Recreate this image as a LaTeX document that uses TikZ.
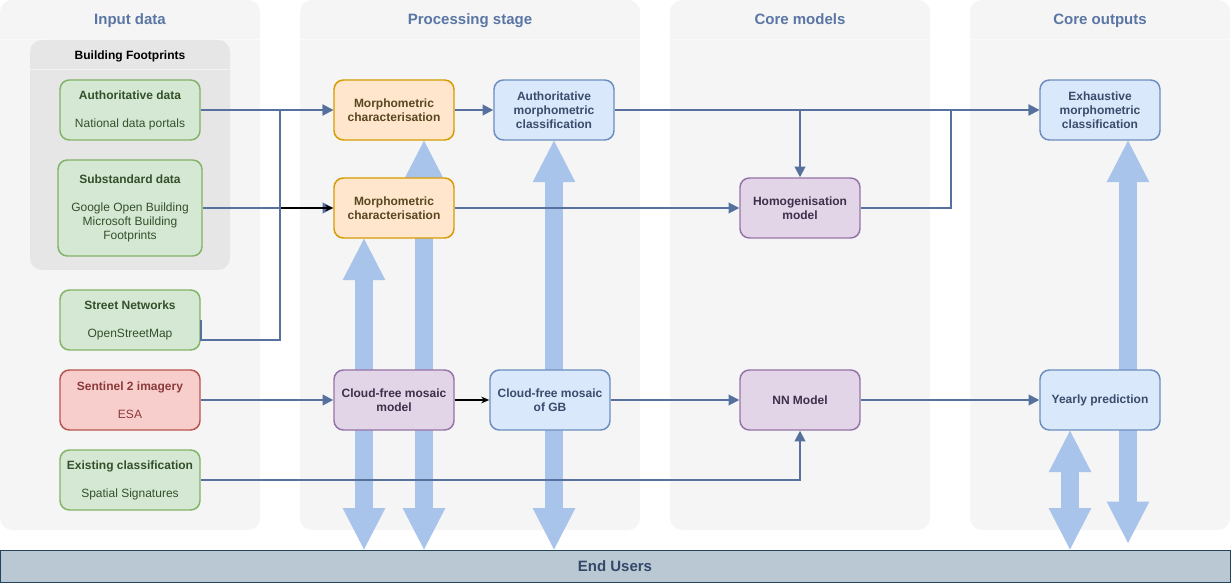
\documentclass[tikz,border=0pt]{standalone}
\usepackage{fontspec}
\setmainfont{Liberation Sans}
\usetikzlibrary{arrows.meta}

\definecolor{lanegrey}{HTML}{F5F5F5}
\definecolor{groupgrey}{HTML}{E6E6E6}
\definecolor{titleblue}{HTML}{5A76A4}
\definecolor{linkblue}{HTML}{56719E}
\definecolor{flowblue}{HTML}{A9C4EB}
\definecolor{greenfill}{HTML}{D5E8D4}
\definecolor{greenline}{HTML}{82B366}
\definecolor{greentext}{HTML}{34502A}
\definecolor{redfill}{HTML}{F8CECC}
\definecolor{redline}{HTML}{B85450}
\definecolor{redtext}{HTML}{8A3A3A}
\definecolor{orangefill}{HTML}{FFE6CC}
\definecolor{orangeline}{HTML}{D79B00}
\definecolor{orangetext}{HTML}{574820}
\definecolor{bluefill}{HTML}{DAE8FC}
\definecolor{blueline}{HTML}{6C8EBF}
\definecolor{bluetext}{HTML}{3A4C6B}
\definecolor{purplefill}{HTML}{E1D5E7}
\definecolor{purpleline}{HTML}{9673A6}
\definecolor{purpletext}{HTML}{3E2F4A}
\definecolor{usersfill}{HTML}{BAC8D3}
\definecolor{usersline}{HTML}{23445D}
\definecolor{userstext}{HTML}{34496A}

\pgfdeclarelayer{lanes}
\pgfdeclarelayer{flows}
\pgfsetlayers{lanes,flows,main}

\tikzset{
  bigtip/.tip={Triangle[length=31pt,width=32pt,line width=0pt]},
  smalltip/.tip={Triangle[length=8pt,width=8pt]}
}

\begin{document}
\begin{tikzpicture}[
    x=0.75pt, y=-0.75pt,
    every node/.style={font=\fontsize{9pt}{10.5pt}\selectfont},
    lane/.style={fill=lanegrey, rounded corners=9pt},
    lanesep/.style={draw=white, opacity=0.5, line width=0.75pt},
    lanetitle/.style={font=\fontsize{11.25pt}{13pt}\selectfont\bfseries, text=titleblue, anchor=base},
    box/.style={rectangle, rounded corners=7pt, line width=1.1pt, minimum width=90pt,
      minimum height=45pt, align=center, inner sep=1pt},
    boldbox/.style={box, font=\fontsize{9pt}{10.5pt}\selectfont\bfseries},
    greenbox/.style={box, draw=greenline, fill=greenfill, text=greentext, minimum width=105pt},
    redbox/.style={box, draw=redline, fill=redfill, text=redtext, minimum width=105pt},
    orangebox/.style={boldbox, draw=orangeline, fill=orangefill, text=orangetext},
    bluebox/.style={boldbox, draw=blueline, fill=bluefill, text=bluetext},
    purplebox/.style={boldbox, draw=purpleline, fill=purplefill, text=purpletext},
    link/.style={draw=linkblue, line width=1.4pt, -smalltip},
    blacklink/.style={draw=black, line width=0.8pt, -{Stealth[length=6pt,width=5pt]}},
    flow/.style={draw=flowblue, line width=14pt, bigtip-bigtip}
  ]
  \useasboundingbox (0,0) rectangle (1231,584);

  % swimlanes
  \begin{pgfonlayer}{lanes}
    \path[lane] (0,0) rectangle (260,530);
    \path[lane] (300,0) rectangle (640,530);
    \path[lane] (670,0) rectangle (930,530);
    \path[lane] (970,0) rectangle (1230,530);
    \draw[lanesep] (0,40) -- (260,40);
    \draw[lanesep] (300,40) -- (640,40);
    \draw[lanesep] (670,40) -- (930,40);
    \draw[lanesep] (970,40) -- (1230,40);
    \path[fill=groupgrey, rounded corners=9pt] (30,40) rectangle (230,270);
    \draw[lanesep] (30,70) -- (230,70);
  \end{pgfonlayer}
  \node (t_input) [lanetitle] at (130,25) {Input data};
  \node (t_proc) [lanetitle] at (470,25) {Processing stage};
  \node (t_models) [lanetitle] at (800,25) {Core models};
  \node (t_out) [lanetitle] at (1100,25) {Core outputs};
  \node (t_foot) [font=\fontsize{9pt}{10.5pt}\selectfont\bfseries, anchor=base] at (130,60) {Building Footprints};

  % input data
  \node (authdata) [greenbox] at (130,110) {\textbf{Authoritative data}\\[10.5pt]National data portals};
  \node (substd) [greenbox, minimum width=108pt, minimum height=72pt] at (130,208)
    {\textbf{Substandard data}\\[10.5pt]Google Open Building\\Microsoft Building\\Footprints};
  \node (street) [greenbox] at (130,320) {\textbf{Street Networks}\\[10.5pt]OpenStreetMap};
  \node (sentinel) [redbox] at (130,400) {\textbf{Sentinel 2 imagery}\\[10.5pt]ESA};
  \node (existing) [greenbox] at (130,480) {\textbf{Existing classification}\\[10.5pt]Spatial Signatures};

  % processing stage
  \node (morphA) [orangebox] at (394,110) {Morphometric\\characterisation};
  \node (morphB) [orangebox] at (394,208) {Morphometric\\characterisation};
  \node (authcls) [bluebox] at (554,110) {Authoritative\\morphometric\\classification};
  \node (cloudmodel) [purplebox] at (394,400) {Cloud-free mosaic\\model};
  \node (cloudgb) [bluebox] at (550,400) {Cloud-free mosaic\\of GB};

  % core models and outputs
  \node (homog) [purplebox] at (800,208) {Homogenisation\\model};
  \node (nnmodel) [purplebox] at (800,400) {NN Model};
  \node (exhaust) [bluebox] at (1100,110) {Exhaustive\\morphometric\\classification};
  \node (yearly) [bluebox] at (1100,400) {Yearly prediction};

  \node (users) [rectangle, fill=usersfill, draw=usersline, line width=0.75pt,
    minimum width=922.5pt, minimum height=24pt, text=userstext,
    font=\fontsize{11.25pt}{13pt}\selectfont\bfseries] at (615,566) {End Users};

  % wide arrows to the users
  \coordinate (fA) at ([xshift=-22.5pt]morphB.south);
  \coordinate (fB) at ([xshift=22.5pt]morphA.south);
  \coordinate (fD) at ([xshift=21pt]exhaust.south);
  \coordinate (fDend) at (1128,543);
  \coordinate (fE) at ([xshift=-22.5pt]yearly.south);
  \begin{pgfonlayer}{flows}
    \draw[flow] (fA) -- (fA |- users.north);
    \draw[flow] (fB) -- (fB |- users.north);
    \draw[flow] (authcls.south) -- (authcls.south |- users.north);
    \draw[flow] (fD) -- (fD |- fDend);
    \draw[flow] (fE) -- (fE |- users.north);
  \end{pgfonlayer}

  % connectors
  \coordinate (jn) at (280,340);
  \draw[link] (authdata) -- (morphA);
  \draw[link] (substd) -- (morphB);
  \draw[blacklink] (street.east) -- (street.east |- jn) -- (jn) |- (morphB.west);
  \draw[link] (street.east) -- (street.east |- jn) -- (jn) |- (morphA.west);
  \draw[link] (morphA) -- (authcls);
  \draw[link] (authcls) -- (exhaust);
  \draw[link] (authcls.east) -| (homog.north);
  \draw[link] (morphB) -- (homog);
  \draw[link] (homog.east) -- ++(90,0) |- (exhaust.west);
  \draw[link] (sentinel) -- (cloudmodel);
  \draw[blacklink] (cloudmodel) -- (cloudgb);
  \draw[link] (cloudgb) -- (nnmodel);
  \draw[link] (nnmodel) -- (yearly);
  \draw[link] (existing.east) -| (nnmodel.south);
\end{tikzpicture}
\end{document}
